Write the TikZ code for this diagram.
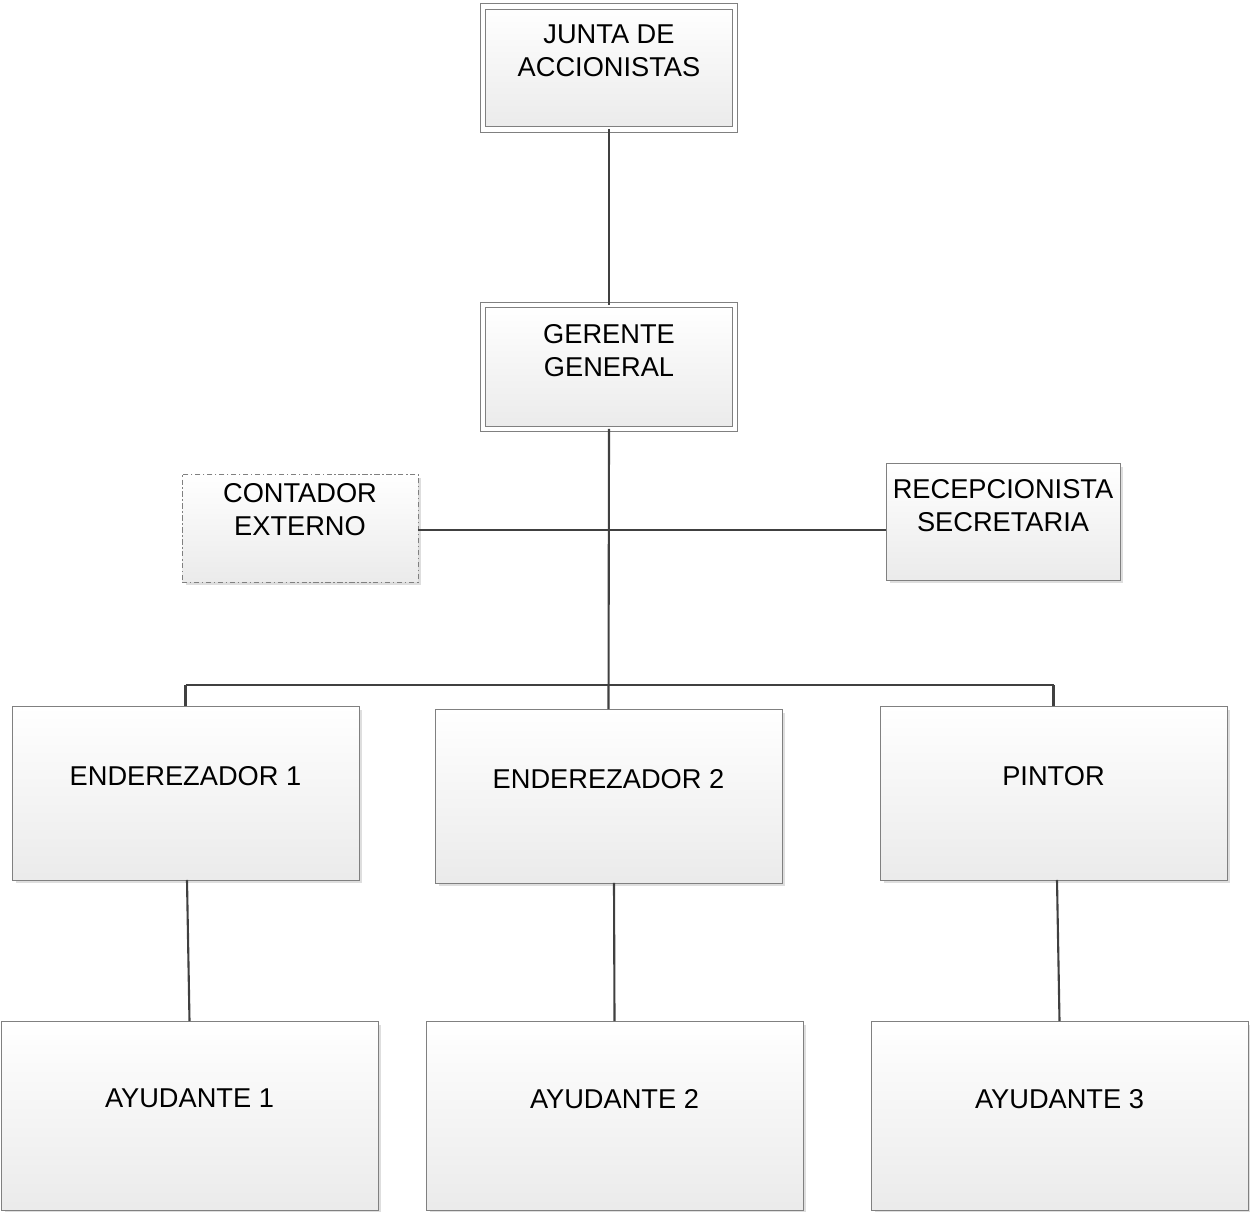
\documentclass[tikz,border=0pt]{standalone}
\usepackage{fontspec}
\setmainfont{Liberation Sans}
\usetikzlibrary{shapes, arrows, calc, positioning, shadows}

\begin{document}
\begin{tikzpicture}[x=0.02cm, y=-0.02cm, font=\fontsize{15.5}{18.8}\selectfont]
	\tikzstyle{cargo} = [draw=black!50, line width=0.5pt, rectangle, inner sep=0pt, outer sep=0pt,
		top color=white, bottom color=black!8,
		drop shadow={shadow xshift=0.07cm, shadow yshift=-0.07cm, fill=black!13, opacity=1}]
	\tikzstyle{cargodoble} = [cargo, double=white, double distance=2.5pt]
	\tikzstyle{cargoext} = [cargo, dash pattern=on 3pt off 1.5pt on 0.8pt off 1.5pt]
	\tikzstyle{rotulo} = [align=center, inner sep=0pt, outer sep=0pt]
	\tikzstyle{linea} = [draw=black!75, line width=1.2pt]

	\useasboundingbox (0,0) rectangle (1250,1212);

	% cajas
	\node[cargodoble, minimum width=5.04cm, minimum height=2.46cm] (junta) at (609,68) {};
	\node[cargodoble, minimum width=5.04cm, minimum height=2.48cm] (gerente) at (609,367) {};
	\node[cargoext, minimum width=4.72cm, minimum height=2.16cm] (contador) at (300,528) {};
	\node[cargo, minimum width=4.68cm, minimum height=2.34cm] (recep) at (1003,521.5) {};
	\node[cargo, minimum width=6.94cm, minimum height=3.48cm] (end1) at (185.5,793) {};
	\node[cargo, minimum width=6.94cm, minimum height=3.48cm] (end2) at (608.5,796) {};
	\node[cargo, minimum width=6.94cm, minimum height=3.48cm] (pintor) at (1053.5,793) {};
	\node[cargo, minimum width=7.54cm, minimum height=3.78cm] (ayu1) at (189.5,1115.5) {};
	\node[cargo, minimum width=7.54cm, minimum height=3.78cm] (ayu2) at (614.5,1115.5) {};
	\node[cargo, minimum width=7.54cm, minimum height=3.78cm] (ayu3) at (1059.5,1115.5) {};

	% textos
	\node[rotulo, below=0.37cm of junta.north] (tjunta) {JUNTA DE\\ACCIONISTAS};
	\node[rotulo, below=0.38cm of gerente.north] (tgerente) {GERENTE\\GENERAL};
	\node[rotulo, below=0.19cm of contador.north] (tcontador) {CONTADOR\\EXTERNO};
	\node[rotulo, below=0.32cm of recep.north] (trecep) {RECEPCIONISTA\\SECRETARIA};
	\node[rotulo, below=1.2cm of end1.north] (tend1) {ENDEREZADOR 1};
	\node[rotulo, below=1.2cm of end2.north] (tend2) {ENDEREZADOR 2};
	\node[rotulo, below=1.2cm of pintor.north] (tpintor) {PINTOR};
	\node[rotulo, below=1.36cm of ayu1.north] (tayu1) {AYUDANTE 1};
	\node[rotulo, below=1.36cm of ayu2.north] (tayu2) {AYUDANTE 2};
	\node[rotulo, below=1.36cm of ayu3.north] (tayu3) {AYUDANTE 3};

	% conectores
	\coordinate (bus) at (609,685);
	\coordinate (ramal) at ([yshift=-0.04cm]contador.east);
	\path[linea]
		(junta.south) edge (gerente.north)
		(gerente.south) edge (end2.north)
		(end1.north) edge (end1.north |- bus)
		(end1.north |- bus) edge (pintor.north |- bus)
		(pintor.north |- bus) edge (pintor.north)
		(ramal) edge (ramal -| recep.west)
		([xshift=0.03cm]end1.south) edge (ayu1.north)
		([xshift=0.11cm]end2.south) edge (ayu2.north)
		([xshift=0.07cm]pintor.south) edge (ayu3.north)
	;
\end{tikzpicture}
\end{document}
